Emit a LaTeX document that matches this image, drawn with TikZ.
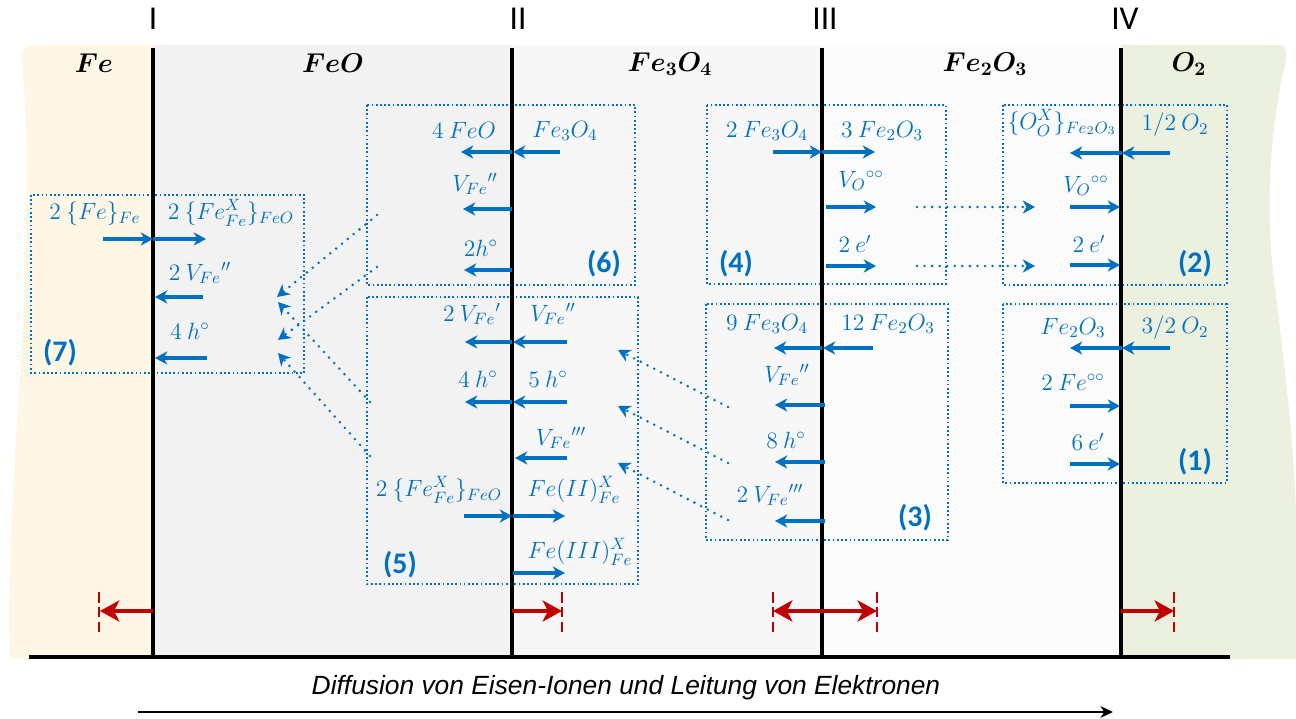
\documentclass[tikz,border=0pt]{standalone}
\usepackage{fix-cm}
\usepackage{fontspec}
\setmainfont{Carlito}
\newfontfamily\arialf{Liberation Sans}
\usepackage{amsmath}
\usetikzlibrary{arrows.meta}
\definecolor{myblue}{HTML}{0070C0}
\definecolor{myred}{HTML}{C00000}
\definecolor{fecol}{HTML}{FFF7E5}
\definecolor{oxcol}{HTML}{EBF1DE}
\definecolor{feocol}{HTML}{F2F2F2}
\definecolor{fe3col}{HTML}{F7F7F7}
\definecolor{fe2col}{HTML}{FBFBFB}
\newcommand\rx[4]{\coordinate (#1s) at (#2,#3); \coordinate (#1e) at (#4,#3); \draw[rxn] (#1s) -- (#1e);}
\begin{document}
\begin{tikzpicture}[x=0.02cm,y=-0.02cm,
  lbl/.style={text=myblue, font=\fontsize{13.4}{15}\selectfont, inner sep=0pt},
  num/.style={text=myblue, font=\fontsize{17}{19}\selectfont\bfseries, inner sep=0pt},
  hdr/.style={text=black, font=\fontsize{15.5}{17}\selectfont\boldmath, inner sep=0pt},
  roman/.style={text=black, font=\fontsize{19}{21}\selectfont, inner sep=0pt},
  rxn/.style={myblue, line width=1.8pt, -{Stealth[length=7pt,width=7.5pt,inset=2.2pt]}},
  boxd/.style={myblue, line width=1pt, dash pattern=on 1pt off 1.4pt},
  conn/.style={myblue, line width=1.6pt, line cap=round, dash pattern=on 0pt off 4.3pt, -{Stealth[length=7pt,width=7.5pt,inset=2.2pt]}},
  redarr/.style={myred, line width=2.8pt, -{Stealth[length=11pt,width=12pt,inset=3pt]}},
  reddash/.style={myred, line width=1.3pt, dash pattern=on 6pt off 2.5pt},
  phase/.style={black, line width=2.1pt}
]
\useasboundingbox (0,0) rectangle (1296,719);
% backgrounds
\fill[fecol] (153,45) -- (32,45) .. controls (24,45) and (21,50) .. (22,60) .. controls (30,160) and (28,260) .. (17,420) .. controls (11,520) and (8,600) .. (10,659) -- (153,659) -- cycle;
\fill[feocol] (153,45) rectangle (512,659);
\fill[fe3col] (512,45) rectangle (822,659);
\fill[fe2col] (822,45) rectangle (1121,659);
\fill[oxcol] (1121,45) -- (1278,45) .. controls (1286,45) and (1288,52) .. (1285,65) .. controls (1272,120) and (1264,200) .. (1274,280) .. controls (1284,360) and (1295,450) .. (1296,520) -- (1296,659) -- (1121,659) -- cycle;

% roman numerals and headers
\node[roman] (rI) at (153,19) {I};
\node[roman] (rII) at (518,19) {II};
\node[roman] (rIII) at (825,19) {III};
\node[roman] (rIV) at (1125,19) {IV};
\node[hdr] (hFe) at (94,63) {$Fe$};
\node[hdr] (hFeO) at (333,63) {$FeO$};
\node[hdr] (hFe3) at (670,64) {$Fe_3O_4$};
\node[hdr] (hFe2) at (985,64) {$Fe_2O_3$};
\node[hdr] (hO2) at (1189,64) {$O_2$};

% dotted boxes
\draw[boxd] (31,195) rectangle (304,373);
\draw[boxd] (367,105) rectangle (635,285);
\draw[boxd] (367,297) rectangle (638,584);
\draw[boxd] (707,105) rectangle (946,284);
\draw[boxd] (706,304) rectangle (948,540);
\draw[boxd] (1003,105) rectangle (1227,285);
\draw[boxd] (1003,304) rectangle (1227,483);

% phase boundaries
\coordinate (Lt1) at (153,48); \coordinate (Lb1) at (153,657);
\coordinate (Lt2) at (512,48); \coordinate (Lb2) at (512,657);
\coordinate (Lt3) at (822,48); \coordinate (Lb3) at (822,657);
\coordinate (Lt4) at (1121,48); \coordinate (Lb4) at (1121,657);
\draw[phase] (Lt1) -- (Lb1);
\draw[phase] (Lt2) -- (Lb2);
\draw[phase] (Lt3) -- (Lb3);
\draw[phase] (Lt4) -- (Lb4);
\coordinate (B0) at (29,657); \coordinate (B1) at (1230,657);
\draw[black, line width=2.6pt] (B0) -- (B1);

% box 7
\node[lbl] (t7a) at (95,214) {$2\:\{Fe\}_{Fe}$};
\node[lbl] (t7b) at (231,213) {$2\:\{Fe^X_{Fe}\}_{FeO}$};
\node[lbl] (t7c) at (200,273) {$2\:V_{Fe}{}''$};
\node[lbl] (t7d) at (190,331) {$4\:h^\circ$};
\node[num] (n7) at (60,353) {(7)};
\rx{a71}{103}{239}{153}
\rx{a72}{153}{239}{206}
\rx{a73}{203}{297}{155}
\rx{a74}{207}{358}{155}

% box 6
\node[lbl] (t6a) at (464,130) {$4\:FeO$};
\node[lbl] (t6b) at (565,131) {$Fe_3O_4$};
\node[lbl] (t6c) at (475,184) {$V_{Fe}{}''$};
\node[lbl] (t6d) at (481,248) {$2h^\circ$};
\node[num] (n6) at (604,264) {(6)};
\rx{a61}{560}{152}{513}
\rx{a62}{512}{152}{461}
\rx{a63}{512}{209}{463}
\rx{a64}{512}{270}{464}

% box 5
\node[lbl] (t5a) at (472,314) {$2\:V_{Fe}{}'$};
\node[lbl] (t5b) at (553,314) {$V_{Fe}{}''$};
\node[lbl] (t5c) at (478,379) {$4\:h^\circ$};
\node[lbl] (t5d) at (548,379) {$5\:h^\circ$};
\node[lbl] (t5e) at (561,438) {$V_{Fe}{}'''$};
\node[lbl] (t5f) at (439,490) {$2\:\{Fe^X_{Fe}\}_{FeO}$};
\node[lbl] (t5g) at (574,490) {$Fe(II)^X_{Fe}$};
\node[lbl] (t5h) at (580,552) {$Fe(III)^X_{Fe}$};
\node[num] (n5) at (400,565) {(5)};
\rx{a51}{512}{342}{465}
\rx{a52}{567}{342}{513}
\rx{a53}{512}{402}{465}
\rx{a54}{567}{402}{513}
\rx{a55}{567}{458}{515}
\rx{a56}{464}{516}{512}
\rx{a57}{513}{516}{565}
\rx{a58}{513}{573}{565}

% box 4
\node[lbl] (t4a) at (767,131) {$2\:Fe_3O_4$};
\node[lbl] (t4b) at (882,131) {$3\:Fe_2O_3$};
\node[lbl] (t4c) at (861,181) {$V_O{}^{\circ\circ}$};
\node[lbl] (t4d) at (855,244) {$2\:e'$};
\node[num] (n4) at (736,264) {(4)};
\rx{a41}{773}{152}{822}
\rx{a42}{822}{152}{875}
\rx{a43}{826}{207}{876}
\rx{a44}{826}{266}{876}

% box 3
\node[lbl] (t3a) at (767,324) {$9\:Fe_3O_4$};
\node[lbl] (t3b) at (888,324) {$12\:Fe_2O_3$};
\node[lbl] (t3c) at (787,375) {$V_{Fe}{}''$};
\node[lbl] (t3d) at (786,440) {$8\:h^\circ$};
\node[lbl] (t3e) at (770,495) {$2\:V_{Fe}{}'''$};
\node[num] (n3) at (915,518) {(3)};
\rx{a31}{873}{348}{823}
\rx{a32}{822}{348}{774}
\rx{a33}{825}{405}{775}
\rx{a34}{825}{462}{775}
\rx{a35}{825}{521}{775}

% box 2
\node[lbl] (t2a) at (1062,123) {$\{O^X_O\}_{Fe_2O_3}$};
\node[lbl] (t2b) at (1175,125) {$1/2\:O_2$};
\node[lbl] (t2c) at (1086,186) {$V_O{}^{\circ\circ}$};
\node[lbl] (t2d) at (1089,244) {$2\:e'$};
\node[num] (n2) at (1195,264) {(2)};
\rx{a21}{1170}{153}{1122}
\rx{a22}{1122}{153}{1070}
\rx{a23}{1070}{207}{1120}
\rx{a24}{1070}{265}{1120}

% box 1
\node[lbl] (t1a) at (1073,328) {$Fe_2O_3$};
\node[lbl] (t1b) at (1175,328) {$3/2\:O_2$};
\node[lbl] (t1c) at (1073,382) {$2\:Fe^{\circ\circ}$};
\node[lbl] (t1d) at (1088,442) {$6\:e'$};
\node[num] (n1) at (1195,462) {(1)};
\rx{a11}{1170}{348}{1122}
\rx{a12}{1122}{348}{1070}
\rx{a13}{1070}{406}{1120}
\rx{a14}{1070}{464}{1120}

% dotted connectors
\coordinate (c42s) at (917,207); \coordinate (c42e) at (1035,207);
\coordinate (c42s2) at (917,266); \coordinate (c42e2) at (1035,266);
\draw[conn] (c42s) -- (c42e);
\draw[conn] (c42s2) -- (c42e2);
\coordinate (c35s1) at (728,407); \coordinate (c35e1) at (618,350);
\coordinate (c35s2) at (728,463); \coordinate (c35e2) at (618,406);
\coordinate (c35s3) at (728,520); \coordinate (c35e3) at (618,463);
\draw[conn] (c35s1) -- (c35e1);
\draw[conn] (c35s2) -- (c35e2);
\draw[conn] (c35s3) -- (c35e3);
\coordinate (c67s1) at (377,215); \coordinate (c67e1) at (277,297);
\coordinate (c67s2) at (377,267); \coordinate (c67e2) at (278,340);
\coordinate (c57s1) at (370,402); \coordinate (c57e1) at (278,302);
\coordinate (c57s2) at (370,456); \coordinate (c57e2) at (278,353);
\draw[conn] (c67s1) -- (c67e1);
\draw[conn] (c67s2) -- (c67e2);
\draw[conn] (c57s1) -- (c57e1);
\draw[conn] (c57s2) -- (c57e2);

% red arrows
\coordinate (r1a) at (153,611); \coordinate (r1b) at (100,611);
\coordinate (r2a) at (512,611); \coordinate (r2b) at (562,611);
\coordinate (r3a) at (773,611); \coordinate (r3b) at (877,611);
\coordinate (r4a) at (1121,611); \coordinate (r4b) at (1174,611);
\foreach \x [count=\i] in {99,562,773,877,1174} {
  \coordinate (dt\i) at (\x,592); \coordinate (db\i) at (\x,634);
  \draw[reddash] (dt\i) -- (db\i);
}
\draw[redarr] (r1a) -- (r1b);
\draw[redarr] (r2a) -- (r2b);
\draw[redarr, {Stealth[length=11pt,width=12pt,inset=3pt]}-{Stealth[length=11pt,width=12pt,inset=3pt]}] (r3a) -- (r3b);
\draw[redarr] (r4a) -- (r4b);

% bottom caption
\node[inner sep=0pt, font=\arialf\itshape\fontsize{15}{17}\selectfont] (cap) at (626,688) {Diffusion von Eisen-Ionen und Leitung von Elektronen};
\coordinate (da) at (138,712); \coordinate (db) at (1113,712);
\draw[black, line width=1.3pt, -{Stealth[length=7pt,width=6.5pt,inset=2pt]}] (da) -- (db);
\end{tikzpicture}
\end{document}
